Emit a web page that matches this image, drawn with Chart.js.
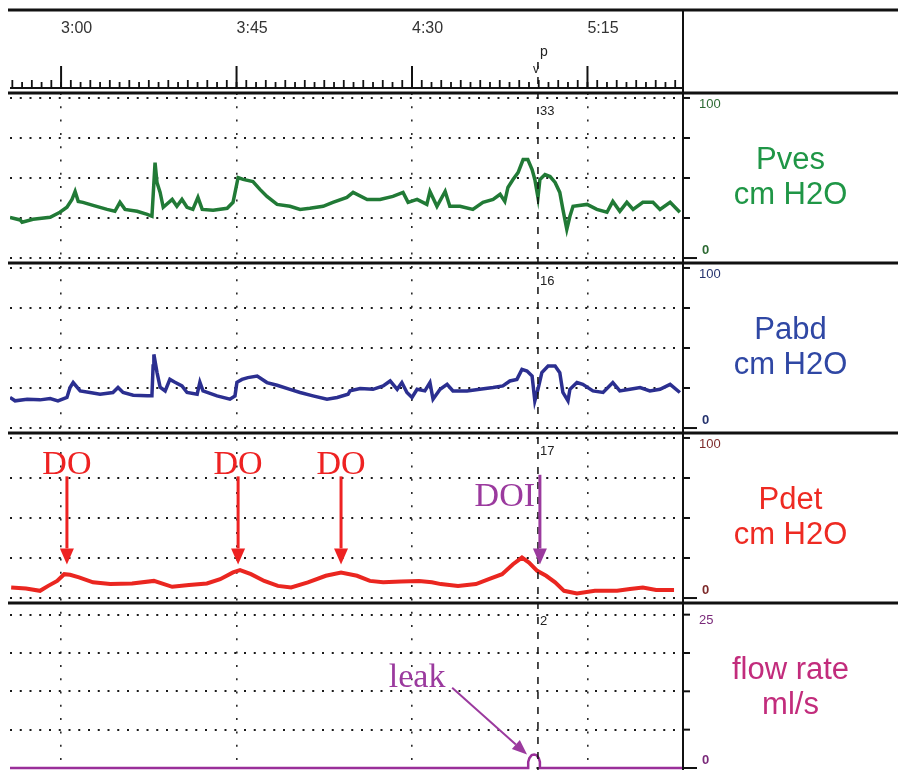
<!DOCTYPE html>
<html>
<head>
<meta charset="utf-8">
<script src="https://cdn.jsdelivr.net/npm/chart.js@4.4.1/dist/chart.umd.min.js"></script>
<style>
  html, body { margin: 0; padding: 0; background: #fff; }
  #wrap { position: relative; width: 898px; height: 770px; }
</style>
</head>
<body>
<div id="wrap"><canvas id="uro"></canvas></div>
<script>
// time axis (seconds), labelled m:ss
const timeMin = 166.9;
const timeMax = 339.5;
const timeTicks = [180, 225, 270, 315];
const minorStep = 2.5;

// Pves trace (cm H2O)
const pvesTime = [
  166.9, 169.5, 170.0, 172.8, 177.2, 179.7, 181.5, 182.8, 183.6, 184.4,
  185.6, 188.2, 191.8, 193.8, 195.1, 196.4, 199.5, 202.1, 203.3, 203.6,
  204.1, 204.6, 205.4, 206.2, 208.5, 209.7, 211.0, 212.3, 213.8, 215.1,
  216.2, 219.0, 222.6, 224.1, 225.4, 226.7, 229.2, 231.0, 232.8, 235.4,
  238.7, 241.3, 243.8, 247.2, 249.7, 253.3, 254.9, 258.5, 261.8, 265.1,
  267.7, 269.0, 271.3, 273.8, 274.6, 276.4, 278.5, 279.7, 282.3, 285.6,
  288.2, 290.8, 292.6, 293.8, 294.6, 295.9, 297.2, 298.5, 299.7, 300.8,
  301.5, 302.3, 302.8, 304.1, 305.4, 306.7, 307.9, 308.7, 309.7, 310.5,
  311.3, 314.9, 317.4, 320.0, 321.5, 323.3, 325.1, 326.7, 329.2, 331.8,
  333.6, 336.2, 338.7
];
const pves = [
  25.3, 23.8, 22.4, 24.2, 25.5, 28.6, 31.7, 36.6, 41.6, 35.4,
  34.8, 32.9, 30.4, 29.2, 34.8, 30.4, 29.2, 27.3, 26.1, 38.5,
  59.6, 47.2, 41.0, 31.7, 36.6, 32.3, 36.6, 31.7, 30.4, 37.9,
  30.4, 29.8, 31.1, 34.8, 50.3, 49.1, 47.8, 42.9, 38.5, 33.5,
  32.3, 30.4, 31.1, 32.3, 34.8, 37.9, 41.0, 36.6, 36.6, 38.5,
  41.0, 34.8, 36.6, 33.5, 41.6, 32.3, 41.6, 32.3, 32.3, 30.4,
  34.8, 36.6, 39.8, 35.4, 44.1, 49.1, 53.4, 61.5, 61.5, 55.3,
  49.1, 37.9, 49.1, 52.2, 50.9, 47.2, 41.0, 30.4, 18.0, 26.1,
  32.3, 33.5, 30.4, 28.6, 35.4, 29.2, 34.8, 30.4, 34.8, 34.8,
  30.4, 34.8, 28.6
];

// Pabd trace (cm H2O)
const pabdTime = [
  166.9, 168.2, 171.3, 174.6, 177.2, 179.2, 181.5, 182.3, 183.1, 184.9,
  187.4, 190.0, 193.3, 194.6, 195.9, 198.5, 202.1, 203.3, 203.6, 203.8,
  204.6, 205.4, 206.7, 207.9, 209.2, 211.0, 212.3, 214.9, 215.6, 216.4,
  220.0, 223.3, 224.6, 225.1, 226.4, 227.9, 230.3, 232.8, 235.4, 238.7,
  241.3, 244.6, 248.2, 250.8, 253.6, 254.1, 256.7, 260.0, 262.6, 264.4,
  266.2, 267.4, 268.7, 270.0, 271.3, 273.3, 274.6, 275.4, 277.2, 279.0,
  280.5, 284.1, 287.4, 290.8, 293.3, 295.1, 296.9, 298.2, 299.5, 300.8,
  301.5, 302.3, 303.3, 304.9, 306.7, 307.9, 308.7, 310.0, 310.5, 312.3,
  313.8, 316.4, 319.0, 321.5, 323.3, 325.9, 328.5, 331.0, 333.6, 336.2,
  338.7
];
const pabd = [
  19.1, 17.0, 18.0, 17.6, 18.4, 17.0, 19.1, 25.3, 28.4, 23.2,
  22.2, 21.1, 22.2, 25.3, 22.2, 20.5, 20.1, 20.1, 38.7, 46.0,
  34.8, 25.5, 23.2, 30.4, 28.6, 26.3, 22.2, 21.1, 28.6, 23.2,
  20.1, 18.0, 20.1, 28.6, 30.4, 31.5, 32.5, 28.4, 26.7, 24.2,
  22.2, 20.1, 18.0, 19.1, 21.1, 23.2, 24.7, 24.2, 26.3, 29.4,
  24.2, 28.4, 22.2, 19.1, 24.2, 23.2, 28.4, 18.0, 24.2, 27.3,
  23.2, 23.2, 24.2, 25.3, 26.3, 29.4, 30.4, 36.6, 35.6, 32.5,
  17.0, 24.2, 34.6, 38.7, 38.7, 34.6, 22.2, 17.0, 24.2, 28.4,
  27.3, 23.2, 22.2, 28.4, 23.2, 24.2, 25.3, 23.2, 24.2, 27.3,
  22.2
];

// Pdet trace (cm H2O)
const pdetTime = [
  167.2, 171.0, 174.6, 176.7, 179.0, 180.8, 182.3, 184.6, 188.2, 192.6,
  198.2, 203.8, 208.5, 212.8, 217.4, 220.8, 224.1, 225.9, 228.7, 232.1,
  235.6, 239.0, 243.3, 247.9, 251.8, 255.9, 259.2, 262.6, 267.2, 271.8,
  275.1, 277.4, 281.8, 286.4, 289.7, 293.1, 295.9, 298.2, 300.0, 302.1,
  304.4, 306.7, 309.0, 312.3, 316.9, 322.6, 325.9, 329.2, 332.6, 337.2
];
const pdet = [
  6.6, 6.0, 4.5, 7.6, 10.7, 14.9, 14.5, 12.9, 9.8, 8.7,
  9.1, 10.7, 7.0, 8.1, 9.1, 11.8, 16.0, 17.4, 14.9, 10.7,
  7.6, 6.6, 9.8, 13.9, 16.0, 13.9, 10.7, 9.8, 10.4, 10.7,
  9.8, 8.7, 7.6, 8.7, 11.8, 14.9, 21.1, 25.3, 22.2, 17.0,
  13.9, 9.8, 4.5, 2.9, 4.5, 4.5, 5.6, 6.6, 5.0, 5.0
];

// flow rate (ml/s), flat except the small leak loop
const flowTime = [166.9, 299.8, 299.8, 300.1, 300.7, 301.3, 301.9, 302.5, 302.8, 302.8, 339.5];
const flow = [0, 0, 1.0, 1.6, 2.1, 2.2, 2.1, 1.6, 1.0, 0, 0];

// axis ranges and grid ticks
const pressRange = [-3.1, 103.1];
const flowRange = [-0.33, 26.9];
const pressTicks = [0, 25, 50, 75, 100];
const flowTicks = [0, 6.25, 12.5, 18.75, 25];

// cursor line and readings
const cursorTime = 302.3;
const cursorReadings = ['33', '16', '17', '2'];

// annotations
const doTimes = [181.5, 225.4, 251.8];
const doTextValue = 83;
const doArrowFrom = 76;
const doArrowTo = 21;
const doiTextTime = 293.8;
const doiTextValue = 63;
const doiArrowTime = 302.8;
const doiArrowFrom = 77;
const leakText = [271.3, 14.7];
const leakArrowFrom = [280.3, 13.1];
const leakArrowTo = [299.5, 2.2];

const panelNames = [['Pves', 'cm H2O'], ['Pabd', 'cm H2O'], ['Pdet', 'cm H2O'], ['flow rate', 'ml/s']];
const panelColors = ['#1f9646', '#2f47a4', '#ee2a22', '#c22c7c'];
const scaleColors = ['#2d6a33', '#25336e', '#7d2a2a', '#7a2a7a'];
const traceColors = ['#217a36', '#2b2f90', '#ea2620', '#9a2f9a'];

const sans = "'Liberation Sans', Arial, sans-serif";
const serif = "'Liberation Serif', 'Times New Roman', serif";

function pts(ts, vs) {
  return ts.map((t, i) => ({ x: t, y: vs[i] }));
}

function fmtTime(v) {
  const m = Math.floor(v / 60);
  const s = Math.round(v - m * 60);
  return m + ':' + String(s).padStart(2, '0');
}

function line(ctx, x1, y1, x2, y2) {
  ctx.beginPath();
  ctx.moveTo(x1, y1);
  ctx.lineTo(x2, y2);
  ctx.stroke();
}

function arrow(ctx, x1, y1, x2, y2, color, width, headLen, headW) {
  const a = Math.atan2(y2 - y1, x2 - x1);
  const bx = x2 - headLen * Math.cos(a);
  const by = y2 - headLen * Math.sin(a);
  ctx.save();
  ctx.strokeStyle = color;
  ctx.fillStyle = color;
  ctx.lineWidth = width;
  line(ctx, x1, y1, bx, by);
  ctx.beginPath();
  ctx.moveTo(x2, y2);
  ctx.lineTo(bx + headW / 2 * Math.sin(a), by - headW / 2 * Math.cos(a));
  ctx.lineTo(bx - headW / 2 * Math.sin(a), by + headW / 2 * Math.cos(a));
  ctx.closePath();
  ctx.fill();
  ctx.restore();
}

// ruler, frame, right-hand scales and notes
const tracePlugin = {
  id: 'tracePlugin',
  afterDraw(chart) {
    const ctx = chart.ctx;
    const ca = chart.chartArea;
    const x = chart.scales.x;
    const ys = ['yPves', 'yPabd', 'yPdet', 'yFlow'].map(id => chart.scales[id]);
    const W = chart.width;
    ctx.save();
    ctx.strokeStyle = '#111';
    ctx.fillStyle = '#111';

    // time ruler
    const base = 88;
    ctx.lineWidth = 2;
    line(ctx, ca.left, base, ca.right, base);
    ctx.lineWidth = 1.8;
    let i = 0;
    for (let t = Math.ceil(timeMin / minorStep) * minorStep; t < timeMax; t += minorStep, i++) {
      const px = x.getPixelForValue(t);
      line(ctx, px, base, px, base - (i % 2 ? 6 : 8));
    }
    ctx.lineWidth = 2;
    timeTicks.forEach(t => {
      const px = x.getPixelForValue(t);
      line(ctx, px, base, px, 66);
    });

    // frame
    ctx.lineWidth = 3;
    line(ctx, 8, 10, W, 10);
    ys.forEach(s => line(ctx, 8, s.top, W, s.top));
    ctx.lineWidth = 2;
    line(ctx, ca.right, 10, ca.right, chart.height);

    // right-hand scales and titles
    const midX = (ca.right + W) / 2;
    ys.forEach((s, k) => {
      const ticks = k === 3 ? flowTicks : pressTicks;
      ctx.strokeStyle = '#111';
      ctx.lineWidth = 2;
      ticks.forEach(v => {
        const py = s.getPixelForValue(v);
        line(ctx, ca.right, py, ca.right + (v === 0 ? 14 : 7), py);
      });
      ctx.font = '13px ' + sans;
      ctx.textAlign = 'left';
      ctx.textBaseline = 'middle';
      ctx.fillStyle = scaleColors[k];
      ctx.fillText(String(ticks[ticks.length - 1]), ca.right + 16, s.getPixelForValue(ticks[ticks.length - 1]) + 6);
      ctx.font = 'bold 13px ' + sans;
      ctx.fillText('0', ca.right + 19, s.getPixelForValue(0) - 8);

      ctx.font = '31px ' + sans;
      ctx.textAlign = 'center';
      ctx.fillStyle = panelColors[k];
      ctx.fillText(panelNames[k][0], midX, s.top + 67);
      ctx.fillText(panelNames[k][1], midX, s.top + 102);
    });

    // cursor line with readings
    const cx = x.getPixelForValue(cursorTime);
    ctx.strokeStyle = '#111';
    ctx.lineWidth = 1.5;
    ctx.setLineDash([7, 8]);
    line(ctx, cx, 62, cx, chart.height);
    ctx.setLineDash([]);
    ctx.fillStyle = '#222';
    ctx.textAlign = 'left';
    ctx.font = '14px ' + sans;
    ctx.fillText('p', cx + 2, 52);
    ctx.font = '12px ' + sans;
    ctx.fillText('v', cx - 5, 70);
    ctx.font = '13px ' + sans;
    ys.forEach((s, k) => ctx.fillText(cursorReadings[k], cx + 2, s.top + 18));

    // detrusor overactivity marks
    const yd = ys[2];
    ctx.font = '34px ' + serif;
    ctx.textAlign = 'center';
    doTimes.forEach(t => {
      const px = x.getPixelForValue(t);
      ctx.fillStyle = '#ee2222';
      ctx.fillText('DO', px, yd.getPixelForValue(doTextValue));
      arrow(ctx, px, yd.getPixelForValue(doArrowFrom), px, yd.getPixelForValue(doArrowTo), '#ee2222', 3, 16, 14);
    });
    ctx.fillStyle = '#9b3a9e';
    ctx.fillText('DOI', x.getPixelForValue(doiTextTime), yd.getPixelForValue(doiTextValue));
    const dx = x.getPixelForValue(doiArrowTime);
    arrow(ctx, dx, yd.getPixelForValue(doiArrowFrom), dx, yd.getPixelForValue(doArrowTo), '#9b3a9e', 3, 16, 14);

    // leak
    const yf = ys[3];
    ctx.fillStyle = '#9b3a9e';
    ctx.fillText('leak', x.getPixelForValue(leakText[0]), yf.getPixelForValue(leakText[1]));
    arrow(ctx, x.getPixelForValue(leakArrowFrom[0]), yf.getPixelForValue(leakArrowFrom[1]),
      x.getPixelForValue(leakArrowTo[0]), yf.getPixelForValue(leakArrowTo[1]), '#9b3a9e', 2, 15, 12);
    ctx.restore();
  }
};

function yAxis(range, ticks, weight) {
  return {
    type: 'linear',
    position: 'right',
    stack: 'uro',
    stackWeight: weight,
    min: range[0],
    max: range[1],
    afterBuildTicks: s => { s.ticks = ticks.map(v => ({ value: v })); },
    afterFit: s => { s.width = 0; },
    ticks: { display: false },
    grid: { drawTicks: false, color: '#1a1a1a', lineWidth: 2 },
    border: { display: false, dash: [2, 7.75] }
  };
}

function trace(data, color, axis, width) {
  return {
    data: data,
    yAxisID: axis,
    borderColor: color,
    borderWidth: width,
    borderJoinStyle: 'miter',
    pointRadius: 0,
    tension: 0,
    fill: false
  };
}

new Chart(document.getElementById('uro'), {
  type: 'line',
  data: {
    datasets: [
      trace(pts(pvesTime, pves), traceColors[0], 'yPves', 3.5),
      trace(pts(pabdTime, pabd), traceColors[1], 'yPabd', 3.5),
      trace(pts(pdetTime, pdet), traceColors[2], 'yPdet', 4),
      trace(pts(flowTime, flow), traceColors[3], 'yFlow', 2.5)
    ]
  },
  options: {
    responsive: true,
    maintainAspectRatio: false,
    devicePixelRatio: 1,
    animation: false,
    events: [],
    layout: { padding: { left: 10, right: 215, top: 10, bottom: 0 } },
    plugins: { legend: { display: false }, tooltip: { enabled: false } },
    scales: {
      x: {
        type: 'linear',
        position: 'top',
        min: timeMin,
        max: timeMax,
        afterBuildTicks: s => { s.ticks = timeTicks.map(v => ({ value: v })); },
        afterFit: s => { s.height = 83; },
        ticks: {
          callback: v => fmtTime(v),
          align: 'start',
          padding: 55,
          autoSkip: false,
          maxRotation: 0,
          color: '#333',
          font: { family: sans, size: 16 }
        },
        grid: { drawTicks: false, color: '#2a2a2a', lineWidth: 1.6 },
        border: { display: false, dash: [2, 11.3] }
      },
      yPves: yAxis(pressRange, pressTicks, 170),
      yPabd: yAxis(pressRange, pressTicks, 170),
      yPdet: yAxis(pressRange, pressTicks, 170),
      yFlow: yAxis(flowRange, flowTicks, 167)
    }
  },
  plugins: [tracePlugin]
});
</script>
</body>
</html>
